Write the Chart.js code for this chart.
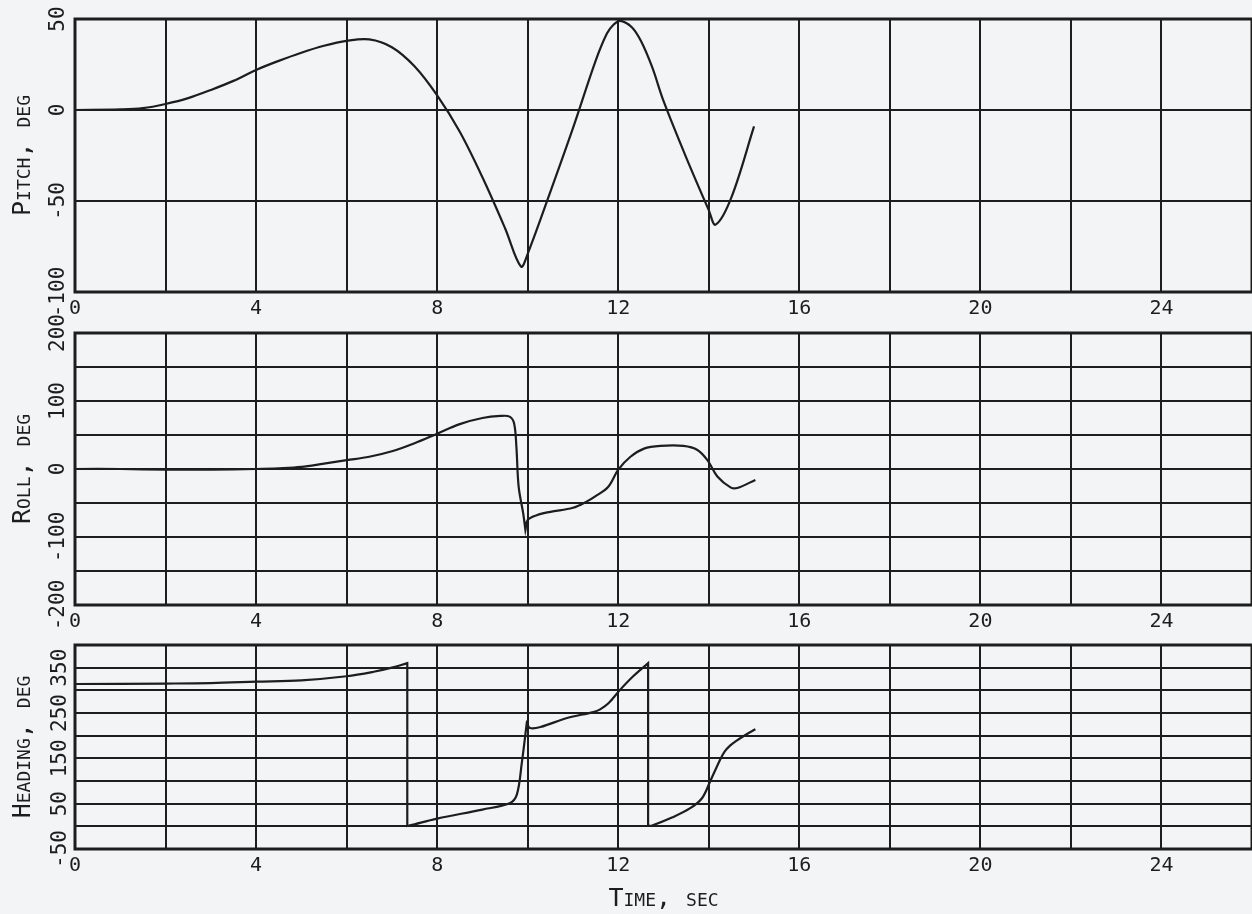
<!DOCTYPE html>
<html>
<head>
<meta charset="utf-8">
<script src="https://cdn.jsdelivr.net/npm/chart.js@4.4.0/dist/chart.umd.min.js"></script>
<style>
body{margin:0;background:#f3f4f6;width:1252px;height:914px;overflow:hidden;position:relative}
canvas{position:absolute;left:0}
</style>
</head>
<body>
<canvas id="pitch" width="1252" height="330" style="top:0px"></canvas>
<canvas id="roll" width="1252" height="330" style="top:314px"></canvas>
<canvas id="heading" width="1252" height="288" style="top:626px"></canvas>
<script>
// time in sec, angles in deg
// corner points are listed twice so the curve keeps its sharp turn there
var pitchTime = [0, 1, 1.5, 2, 2.5, 3, 3.5, 4, 4.5, 5, 5.5, 6, 6.5, 7, 7.5, 8, 8.5, 9, 9.5, 9.85, 10, 10.5, 11, 11.5, 11.75, 11.9, 12.05, 12.3, 12.5, 12.75, 13, 13.5, 14, 14.15, 14.5, 15];
var pitchDeg  = [0, 0.3, 1, 3.3, 6.5, 11, 16, 22, 27, 31.5, 35.3, 38, 38.8, 34.5, 24, 8, -12, -37, -65, -86, -79, -45, -10, 27, 42, 47, 49, 45.5, 38, 23.5, 5, -26, -55, -63, -48, -9];

var rollTime = [0, 1, 2, 3, 4, 4.5, 5, 5.5, 6, 6.5, 7, 7.5, 8, 8.5, 9, 9.4, 9.6, 9.7, 9.75, 9.8, 9.9, 9.95, 9.95, 10, 10.2, 10.5, 11, 11.3, 11.5, 11.78, 12, 12.27, 12.57, 12.93, 13.44, 13.75, 13.97, 14.19, 14.48, 14.63, 15.03];
var rollDeg  = [0, 0, -1, -1, 0, 1, 3, 8, 13, 18, 26, 38, 52, 66, 75, 78, 77, 67, 33, -26, -65, -90, -90, -75, -68, -63, -57, -48, -40, -26, -1, 18, 30, 34, 34, 28, 13, -11, -27, -28, -16];

var headingTime = [0, 2, 3, 4, 5, 6, 6.6, 7, 7.34, 7.34, 7.34, 7.34, 7.4, 8, 9, 9.6, 9.76, 9.87, 9.98, 9.98, 10.05, 10.28, 10.87, 11.45, 11.6, 11.79, 12.04, 12.33, 12.66, 12.66, 12.66, 12.66, 12.75, 13.2, 13.59, 13.85, 14.03, 14.25, 14.35, 14.47, 14.6, 14.8, 15.03];
var headingDeg  = [314, 315, 316, 319, 322, 331, 341, 350, 360, 360, 1, 1, 2, 17, 37, 51, 70, 140, 228, 228, 217, 219, 239, 252, 258, 272, 301, 331, 360, 360, 1, 1, 2, 20, 40, 62, 99, 147, 165, 178, 188, 201, 214];

var timeTicks = [0, 4, 8, 12, 16, 20, 24];

var ink = '#1d1d1d';
var fam = "'DejaVu Sans Mono', monospace";

function pts(t, v){
	var out = [];
	for (var i in t){ out.push({x: t[i], y: v[i]}); }
	return out;
}

var frame = {
	id: 'frame',
	beforeDatasetsDraw: function(chart){
		var a = chart.chartArea, ctx = chart.ctx;
		ctx.save();
		ctx.strokeStyle = ink;
		ctx.lineWidth = 3;
		ctx.strokeRect(a.left, a.top, a.right - a.left, a.bottom - a.top);
		ctx.restore();
	}
};

function makeChart(id, data, ymin, ymax, showY, ytitle, ypad, xh, xtitle){
	var ctx = document.getElementById(id);
	return new Chart(ctx, {
		type: 'line',
		data: {datasets: [{
			data: data,
			borderColor: ink,
			borderWidth: 2.2,
			pointRadius: 0,
			fill: false,
			tension: 0.35
		}]},
		options: {
			responsive: false,
			animation: false,
			devicePixelRatio: 1,
			layout: {padding: {top: 19, right: 0, left: 0, bottom: 0}},
			plugins: {legend: {display: false}, tooltip: {enabled: false}},
			scales: {
				x: {
					type: 'linear', min: 0, max: 26,
					grid: {color: ink, lineWidth: 2, drawTicks: true, tickLength: 5, tickColor: 'rgba(0,0,0,0)'},
					border: {display: false},
					ticks: {
						stepSize: 2, autoSkip: false, maxRotation: 0, padding: 0,
						color: ink, font: {family: fam, size: 20},
						callback: function(v){ return timeTicks.indexOf(v) >= 0 ? v : ''; }
					},
					title: {display: !!xtitle, text: xtitle || '', color: ink,
						font: {family: fam, size: 25, weight: 'small-caps'}, padding: {top: 0, bottom: 0}},
					afterFit: function(s){ s.height = xh; }
				},
				y: {
					min: ymin, max: ymax,
					grid: {color: ink, lineWidth: 2, drawTicks: false},
					border: {display: false},
					ticks: {
						stepSize: 50, autoSkip: false, minRotation: 90, maxRotation: 90,
						crossAlign: 'center', padding: ypad,
						color: ink, font: {family: fam, size: 21},
						callback: function(v){ return showY(v) ? v : ''; }
					},
					title: {display: true, text: ytitle, color: ink,
						font: {family: fam, size: 25, weight: 'small-caps'}, padding: {top: 8, bottom: 0}},
					afterFit: function(s){ s.width = 75; }
				}
			}
		},
		plugins: [frame]
	});
}

makeChart('pitch', pts(pitchTime, pitchDeg), -100, 50,
	function(v){ return true; }, 'Pitch, deg', -9, 38);
makeChart('roll', pts(rollTime, rollDeg), -200, 200,
	function(v){ return v % 100 === 0; }, 'Roll, deg', -9, 39);
makeChart('heading', pts(headingTime, headingDeg), -50, 400,
	function(v){ return (v + 50) % 100 === 0 && v < 400; }, 'Heading, deg', -5, 65, 'Time, sec');
</script>
</body>
</html>
